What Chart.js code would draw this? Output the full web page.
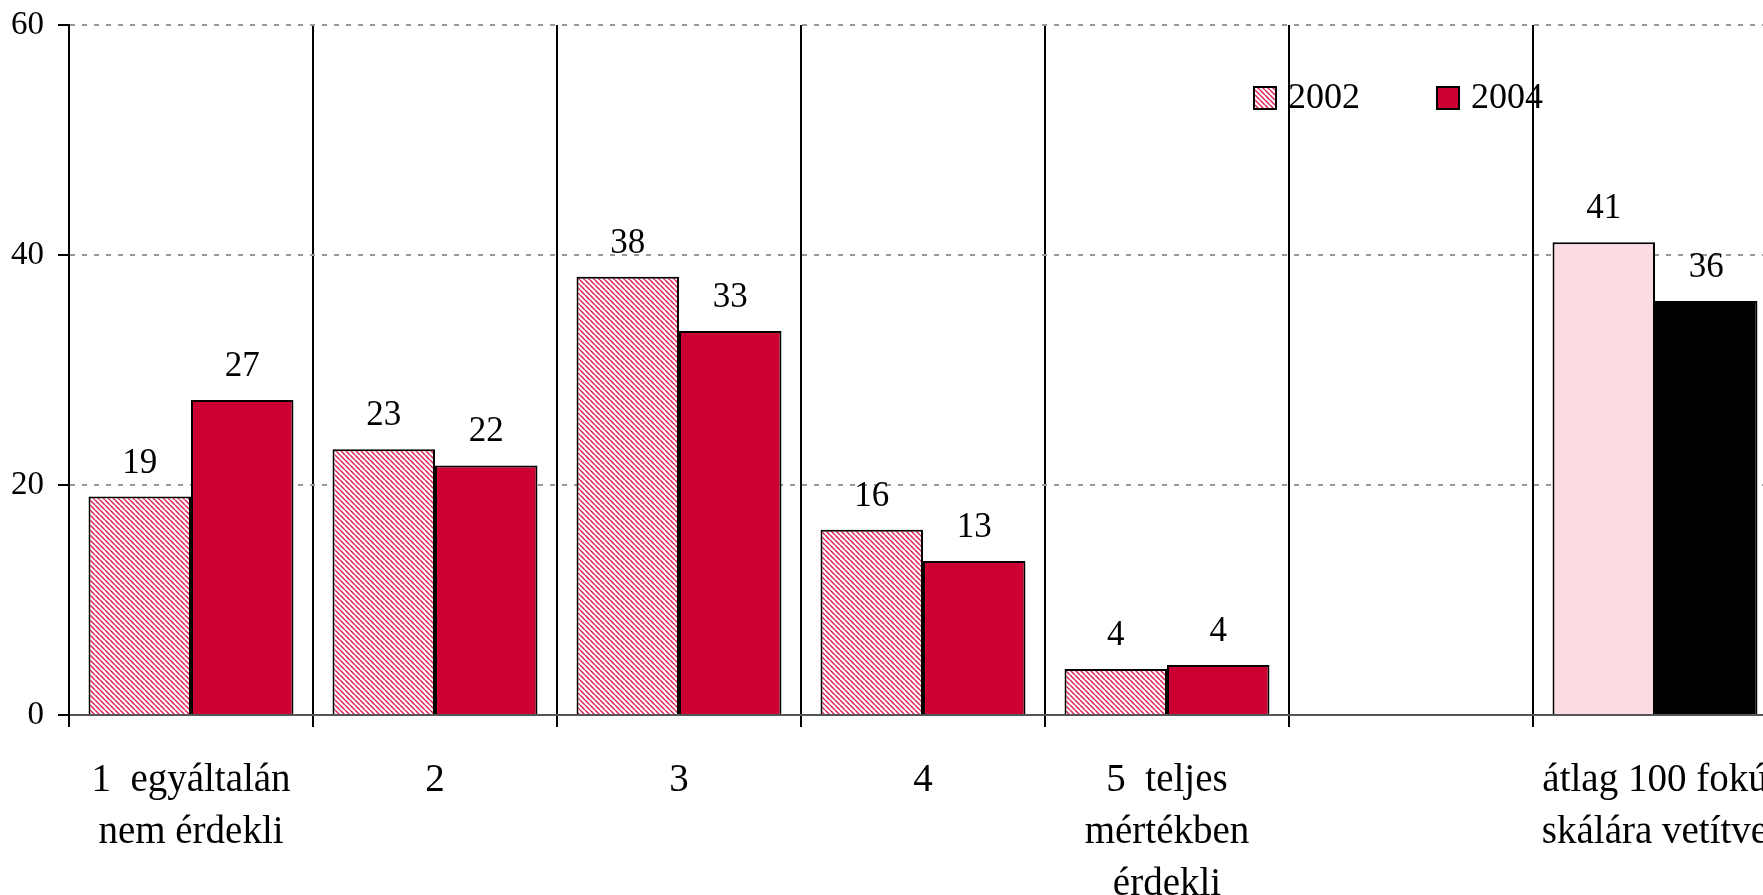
<!DOCTYPE html>
<html>
<head>
<meta charset="utf-8">
<script src="https://cdn.jsdelivr.net/npm/chart.js@4.4.0/dist/chart.umd.min.js"></script>
<style>
  html, body { margin: 0; padding: 0; background: #fff; overflow: hidden; }
  #wrap { width: 1790px; height: 895px; position: relative; }
</style>
</head>
<body>
<div id="wrap"><canvas id="chart"></canvas></div>
<script>
// ===== DATA =====
const categories = [
  ["1  egyáltalán", "nem érdekli"],
  "2",
  "3",
  "4",
  ["5  teljes", "mértékben", "érdekli"],
  "",
  ["átlag 100 fokú", "skálára vetítve"],
];
const values2002 = [19.0, 23.1, 38.1, 16.1, 4.0, null, 41.1];
const values2004 = [27.4, 21.7, 33.4, 13.4, 4.35, null, 36.0];
const seriesNames = ["2002", "2004"];
const yMin = 0;
const yMax = 60;
const yStep = 20;

const RED = "#cc0033";
const PINK = "#fcdce3";
const SERIF = '"Liberation Serif", "Times New Roman", serif';

// diagonal red hatch for the 2002 bars
function makeHatch() {
  const size = 5;
  const c = document.createElement("canvas");
  c.width = size;
  c.height = size;
  const g = c.getContext("2d");
  g.fillStyle = "#fff";
  g.fillRect(0, 0, size, size);
  g.strokeStyle = "#dd2255";
  g.lineWidth = 1.5;
  g.beginPath();
  for (const o of [-size, 0, size]) {
    g.moveTo(o, 0);
    g.lineTo(o + size, size);
  }
  g.stroke();
  return g.createPattern(c, "repeat");
}
const hatch = makeHatch();

const last = categories.length - 1;
const colors2002 = categories.map((_, i) => (i === last ? PINK : hatch));
const colors2004 = categories.map((_, i) => (i === last ? "#000" : RED));

// numbers above the bars
const valueLabels = {
  id: "valueLabels",
  afterDatasetsDraw(chart) {
    const ctx = chart.ctx;
    ctx.save();
    ctx.font = "35px " + SERIF;
    ctx.fillStyle = "#000";
    ctx.textAlign = "center";
    ctx.textBaseline = "alphabetic";
    chart.data.datasets.forEach((ds, di) => {
      chart.getDatasetMeta(di).data.forEach((bar, i) => {
        const v = ds.data[i];
        if (v == null) return;
        ctx.fillText(String(Math.round(v)), bar.x, bar.y - 24);
      });
    });
    ctx.restore();
  },
};

// legend drawn inside the plot, top right
const boxLegend = {
  id: "boxLegend",
  afterDraw(chart) {
    const ctx = chart.ctx;
    const items = [
      { x: 1254, fill: hatch, text: seriesNames[0] },
      { x: 1437, fill: RED, text: seriesNames[1] },
    ];
    ctx.save();
    ctx.font = "36px " + SERIF;
    ctx.textBaseline = "middle";
    ctx.textAlign = "left";
    items.forEach((it) => {
      ctx.fillStyle = it.fill;
      ctx.fillRect(it.x, 87, 22, 22);
      ctx.strokeStyle = "#000";
      ctx.lineWidth = 2;
      ctx.strokeRect(it.x, 87, 22, 22);
      ctx.fillStyle = "#000";
      ctx.fillText(it.text, it.x + 34, 99);
    });
    ctx.restore();
  },
};

new Chart(document.getElementById("chart"), {
  type: "bar",
  data: {
    labels: categories,
    datasets: [
      {
        label: seriesNames[0],
        data: values2002,
        backgroundColor: colors2002,
        borderColor: "#000",
        borderWidth: 2,
      },
      {
        label: seriesNames[1],
        data: values2004,
        backgroundColor: colors2004,
        borderColor: "#000",
        borderWidth: 2,
      },
    ],
  },
  options: {
    responsive: true,
    maintainAspectRatio: false,
    animation: false,
    datasets: { bar: { categoryPercentage: 0.84, barPercentage: 1.0 } },
    layout: { padding: { top: 25, right: 13, left: 0, bottom: 0 } },
    plugins: { legend: { display: false }, tooltip: { enabled: false } },
    scales: {
      x: {
        grid: { color: "#000", lineWidth: 2, tickLength: 12, offset: true },
        border: { color: "#555", width: 2 },
        ticks: {
          color: "#000",
          font: { family: SERIF, size: 39, lineHeight: 1.33 },
          padding: 28,
          maxRotation: 0,
          autoSkip: false,
        },
        afterFit: (s) => {
          s.height = 180;
          s.paddingLeft = 0;
          s.paddingRight = 0;
        },
      },
      y: {
        min: yMin,
        max: yMax,
        grid: {
          color: (c) => (c.tick && c.tick.value === 0 ? "rgba(0,0,0,0)" : "#999"),
          lineWidth: 2,
          tickColor: "#000",
          tickLength: 11,
          tickWidth: 2,
          tickBorderDash: [],
        },
        border: { color: "#000", width: 2, dash: [5, 7] },
        ticks: {
          stepSize: yStep,
          color: "#000",
          font: { family: SERIF, size: 33 },
          padding: 14,
        },
        afterFit: (s) => {
          s.width = 69;
          s.paddingTop = 0;
          s.paddingBottom = 0;
        },
      },
    },
  },
  plugins: [valueLabels, boxLegend],
});
</script>
</body>
</html>
